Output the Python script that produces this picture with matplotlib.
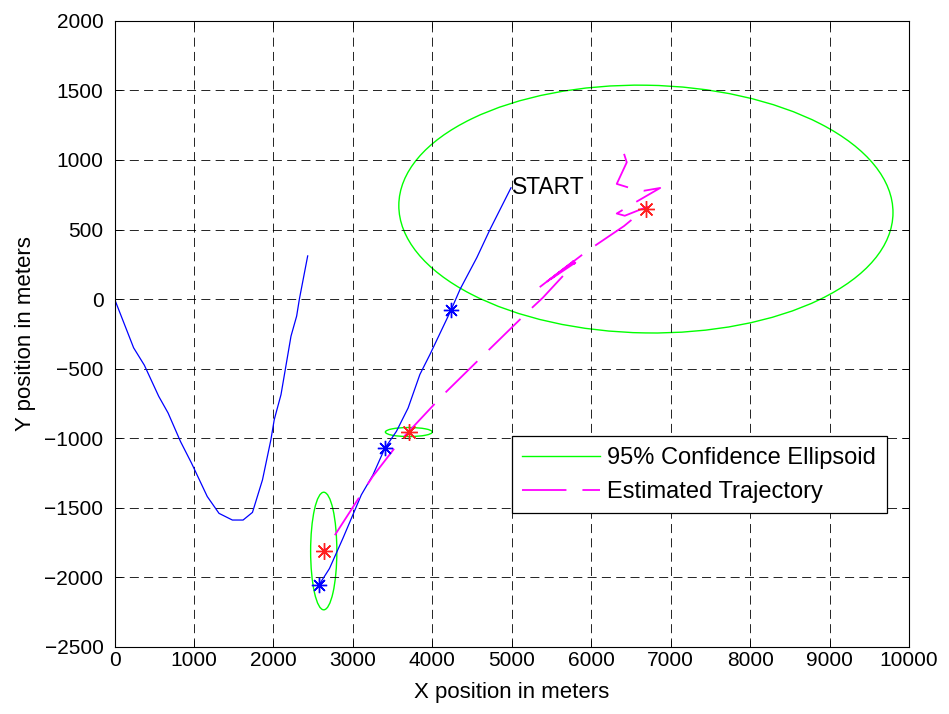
import numpy as np
import matplotlib
matplotlib.use("Agg")
import matplotlib.pyplot as plt
from matplotlib.patches import Ellipse

plt.rcParams["font.family"] = ["Liberation Sans", "DejaVu Sans"]
plt.rcParams["lines.scale_dashes"] = False

# true path, first leg
path1_x = [0, 240, 375, 556, 674, 830, 969, 1167, 1315, 1483, 1618, 1736, 1862,
           1968, 2010, 2095, 2221, 2292, 2326, 2431]
path1_y = [0, -351, -476, -700, -820, -1025, -1181, -1421, -1542, -1590, -1590,
           -1535, -1301, -1012, -868, -688, -267, -123, -2, 310]

# true path, second leg (from START)
path2_x = [4990, 4728, 4560, 4349, 4235, 3970, 3843, 3695, 3548, 3401, 3253,
           3106, 2874, 2705, 2570]
path2_y = [800, 503, 298, 70, -80, -399, -543, -784, -952, -1075, -1265, -1409,
           -1722, -1939, -2060]

# true positions at the sample times
true_x = [4235, 3401, 2570]
true_y = [-80, -1075, -2060]

# estimated positions at the sample times
est_x = [6688, 3704, 2633]
est_y = [647, -957, -1813]

# 95% ellipses: width, height (m), angle (deg)
ell_w = [6220, 590, 330]
ell_h = [1782, 65, 846]
ell_ang = [-0.5, 0, 0]

# estimated trajectory
traj_x = [6413, 6447, 6321, 6464, 6666, 6868, 6518, 6321, 6422, 6708, 6413,
          5950, 5316, 5780, 5487, 5800, 5390, 5234, 4686, 4138, 3607, 3249,
          2828, 2726, 2633]
traj_y = [1044, 983, 828, 803, 779, 799, 683, 615, 599, 664, 525, 346, 70, 274,
          142, 262, 9, -74, -380, -688, -1012, -1277, -1650, -1741, -1813]

fig = plt.figure(figsize=(9.49, 7.14), dpi=100)
ax = fig.add_axes([0.1207, 0.0945, 0.8372, 0.8761])

ax.plot(path1_x, path1_y, color="#0000ff", lw=0.9)
ax.plot(path2_x, path2_y, color="#0000ff", lw=0.9)

green = "#00ff00"
for i in range(len(est_x)):
    e = Ellipse((est_x[i], est_y[i]), ell_w[i], ell_h[i], angle=ell_ang[i],
                fill=False, edgecolor=green, lw=1.0)
    ax.add_patch(e)
ax.plot([], [], color=green, lw=1.0, label="95% Confidence Ellipsoid")

ax.plot(traj_x, traj_y, color="#ff00ff", lw=1.3, linestyle=(0, (32, 11.5)),
        label="Estimated Trajectory")

star = (8, 2, 0)
ax.plot(true_x, true_y, linestyle="none", marker=star, ms=11, mew=1.0,
        color="#0000ff")
ax.plot(est_x, est_y, linestyle="none", marker=star, ms=12, mew=1.0,
        color="#ff2020")

ax.text(5000, 800, "START", fontsize=16.5, ha="left", va="center")

ax.set_xlim(0, 10000)
ax.set_ylim(-2500, 2000)
ax.set_xticks(np.arange(0, 10001, 1000))
ax.set_yticks(np.arange(-2500, 2001, 500))
ax.grid(True, color="k", lw=0.6, linestyle=(0, (6.5, 3.8)))
ax.tick_params(direction="in", top=True, right=True, length=5, width=0.6,
               labelsize=15)
ax.tick_params(axis="x", pad=3)
ax.tick_params(axis="y", pad=8)
for s in ax.spines.values():
    s.set_linewidth(0.8)

ax.set_xlabel("X position in meters", fontsize=16, labelpad=9)
ax.set_ylabel("Y position in meters", fontsize=16, labelpad=6)

leg = ax.legend(loc="upper left", bbox_to_anchor=(0.5, 0.336), fontsize=17,
                handlelength=3.3, handletextpad=0.3, borderaxespad=0,
                fancybox=False, framealpha=1, edgecolor="k",
                labelspacing=0.5, borderpad=0.45)
leg.get_frame().set_linewidth(0.9)

fig.savefig("out.png", dpi=100)
